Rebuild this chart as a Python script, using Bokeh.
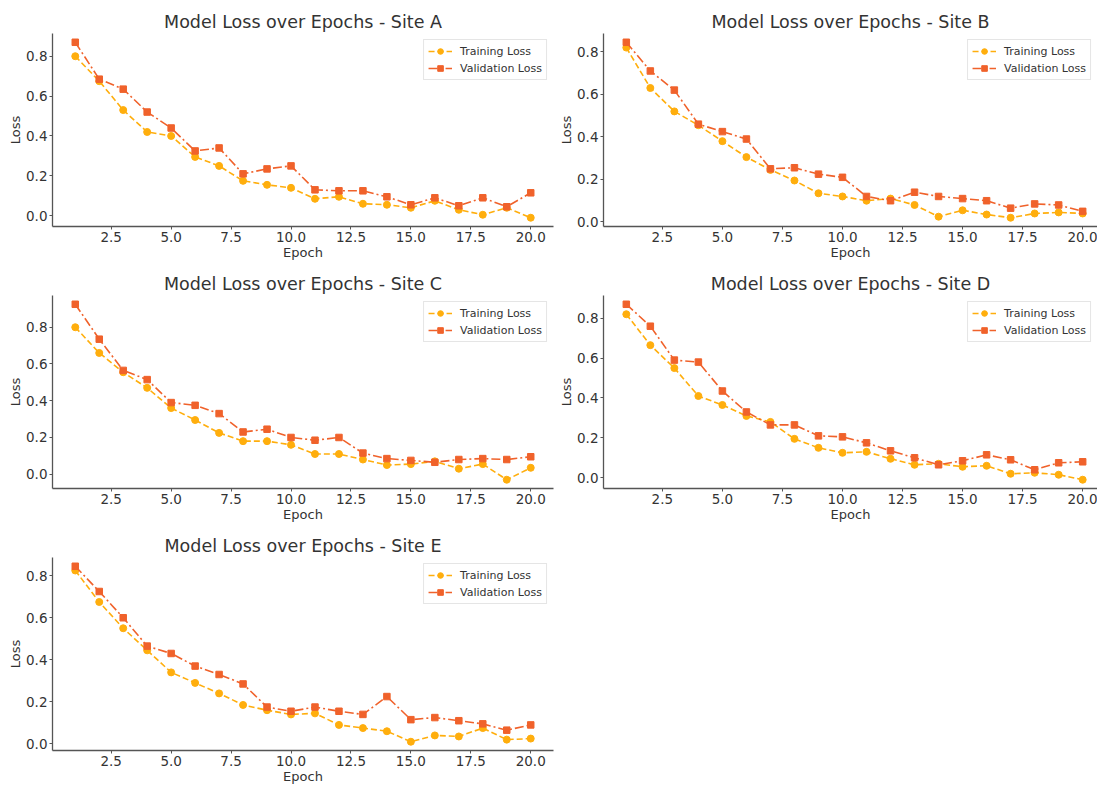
import numpy as np
from bokeh.plotting import figure
from bokeh.layouts import column, row
from bokeh.models import Range1d, FixedTicker, NumeralTickFormatter
from bokeh.embed import file_html
from bokeh.resources import INLINE

epochs = list(range(1, 21))

train_a = [0.80, 0.675, 0.53, 0.42, 0.40, 0.295, 0.25, 0.175, 0.155, 0.14,
           0.085, 0.095, 0.06, 0.055, 0.04, 0.075, 0.03, 0.005, 0.04, -0.01]
val_a = [0.87, 0.685, 0.635, 0.52, 0.44, 0.325, 0.34, 0.21, 0.235, 0.25,
         0.13, 0.125, 0.125, 0.095, 0.055, 0.09, 0.05, 0.09, 0.045, 0.115]

train_b = [0.82, 0.63, 0.52, 0.455, 0.38, 0.305, 0.245, 0.195, 0.135, 0.12,
           0.10, 0.11, 0.08, 0.025, 0.055, 0.035, 0.02, 0.04, 0.045, 0.04]
val_b = [0.845, 0.71, 0.62, 0.46, 0.425, 0.39, 0.25, 0.255, 0.225, 0.21,
         0.12, 0.10, 0.14, 0.12, 0.11, 0.10, 0.065, 0.085, 0.08, 0.05]

train_c = [0.80, 0.66, 0.555, 0.47, 0.36, 0.295, 0.225, 0.18, 0.18, 0.16,
           0.11, 0.11, 0.08, 0.05, 0.055, 0.07, 0.03, 0.055, -0.03, 0.035]
val_c = [0.925, 0.735, 0.565, 0.515, 0.39, 0.375, 0.33, 0.23, 0.245, 0.20,
         0.185, 0.20, 0.115, 0.085, 0.075, 0.065, 0.08, 0.085, 0.08, 0.095]

train_d = [0.82, 0.665, 0.55, 0.41, 0.365, 0.31, 0.28, 0.195, 0.15, 0.125,
           0.13, 0.095, 0.065, 0.07, 0.055, 0.06, 0.02, 0.025, 0.015, -0.01]
val_d = [0.87, 0.76, 0.59, 0.58, 0.435, 0.33, 0.265, 0.265, 0.21, 0.205,
         0.175, 0.135, 0.10, 0.065, 0.085, 0.115, 0.09, 0.04, 0.075, 0.08]

train_e = [0.825, 0.675, 0.55, 0.445, 0.34, 0.29, 0.24, 0.185, 0.16, 0.14,
           0.145, 0.09, 0.075, 0.06, 0.01, 0.04, 0.035, 0.075, 0.02, 0.025]
val_e = [0.845, 0.725, 0.60, 0.465, 0.43, 0.37, 0.33, 0.285, 0.175, 0.155,
         0.175, 0.155, 0.14, 0.225, 0.115, 0.125, 0.11, 0.095, 0.065, 0.09]

site_names = ["Site A", "Site B", "Site C", "Site D", "Site E"]
x_ticks = [2.5, 5.0, 7.5, 10.0, 12.5, 15.0, 17.5, 20.0]
y_ticks = [0.0, 0.2, 0.4, 0.6, 0.8]

TRAIN_COLOR = "#FFAE0D"
VAL_COLOR = "#F0622B"
TEXT_COLOR = "#333333"
AXIS_COLOR = "#555555"
FONT = "DejaVu Sans"


def make_panel(name, train, val, width, height, border_left, border_top,
               border_bottom, border_right, x_end_frac=None):
    allv = np.array(train + val)
    lo, hi = allv.min(), allv.max()
    pad = 0.05 * (hi - lo)
    x0, x1 = min(epochs), max(epochs)
    xpad = 0.05 * (x1 - x0)
    x_start = x0 - xpad
    x_end = x1 + xpad
    if x_end_frac is not None:
        # only the visible part of a panel that runs past the page edge
        x_end = x_start + (x_end - x_start) * x_end_frac
    p = figure(width=width, height=height, output_backend="svg",
               toolbar_location=None,
               x_range=Range1d(x_start, x_end),
               y_range=Range1d(lo - pad, hi + pad),
               min_border_left=border_left, min_border_top=border_top,
               min_border_bottom=border_bottom, min_border_right=border_right)
    p.title.text = "Model Loss over Epochs - " + name
    p.title.align = "center"
    p.title.text_font = FONT
    p.title.text_font_size = "17.5px"
    p.title.text_font_style = "normal"
    p.title.text_color = TEXT_COLOR
    p.title.standoff = 3

    p.line(epochs, train, color=TRAIN_COLOR, line_width=1.6, line_dash="6 3",
           legend_label="Training Loss")
    p.scatter(epochs, train, marker="circle", size=7, color=TRAIN_COLOR,
              legend_label="Training Loss")
    p.line(epochs, val, color=VAL_COLOR, line_width=1.6, line_dash="9 3 2 3",
           legend_label="Validation Loss")
    p.scatter(epochs, val, marker="square", size=6.5, color=VAL_COLOR,
              legend_label="Validation Loss")

    p.grid.visible = False
    p.outline_line_color = None
    p.background_fill_color = "white"
    p.border_fill_color = "white"

    p.xaxis.ticker = FixedTicker(ticks=x_ticks)
    p.yaxis.ticker = FixedTicker(ticks=y_ticks)
    p.xaxis.formatter = NumeralTickFormatter(format="0.0")
    p.yaxis.formatter = NumeralTickFormatter(format="0.0")
    p.xaxis.axis_label = "Epoch"
    p.yaxis.axis_label = "Loss"
    for ax in (p.xaxis, p.yaxis):
        ax.axis_line_color = AXIS_COLOR
        ax.axis_line_width = 1.3
        ax.major_tick_line_color = AXIS_COLOR
        ax.major_tick_in = 0
        ax.major_tick_out = 3
        ax.minor_tick_line_color = None
        ax.major_label_text_font = FONT
        ax.major_label_text_font_size = "13.5px"
        ax.major_label_text_color = TEXT_COLOR
        ax.major_label_standoff = 2
        ax.axis_label_text_font = FONT
        ax.axis_label_text_font_size = "13px"
        ax.axis_label_text_font_style = "normal"
        ax.axis_label_text_color = TEXT_COLOR
        ax.axis_label_standoff = 0

    lg = p.legend[0]
    lg.location = "top_right"
    lg.margin = 6
    lg.padding = 4
    lg.spacing = 3
    lg.glyph_width = 24
    lg.glyph_height = 14
    lg.label_height = 14
    lg.label_standoff = 8
    lg.label_text_font = FONT
    lg.label_text_font_size = "11px"
    lg.label_text_color = TEXT_COLOR
    lg.border_line_color = "#cccccc"
    lg.border_line_width = 1
    lg.background_fill_alpha = 0.85
    return p


pA = make_panel(site_names[0], train_a, val_a, 556, 262, 52, 33, 34, 3)
pB = make_panel(site_names[1], train_b, val_b, 541, 262, 47, 33, 34, 0,
                x_end_frac=494 / 502)
pC = make_panel(site_names[2], train_c, val_c, 556, 262, 52, 33, 34, 3)
pD = make_panel(site_names[3], train_d, val_d, 541, 262, 47, 33, 34, 0,
                x_end_frac=494 / 502)
pE = make_panel(site_names[4], train_e, val_e, 556, 262, 52, 33, 34, 3)

layout = column(row(pA, pB), row(pC, pD), row(pE))

open("out.html", "w").write(file_html(layout, INLINE))
